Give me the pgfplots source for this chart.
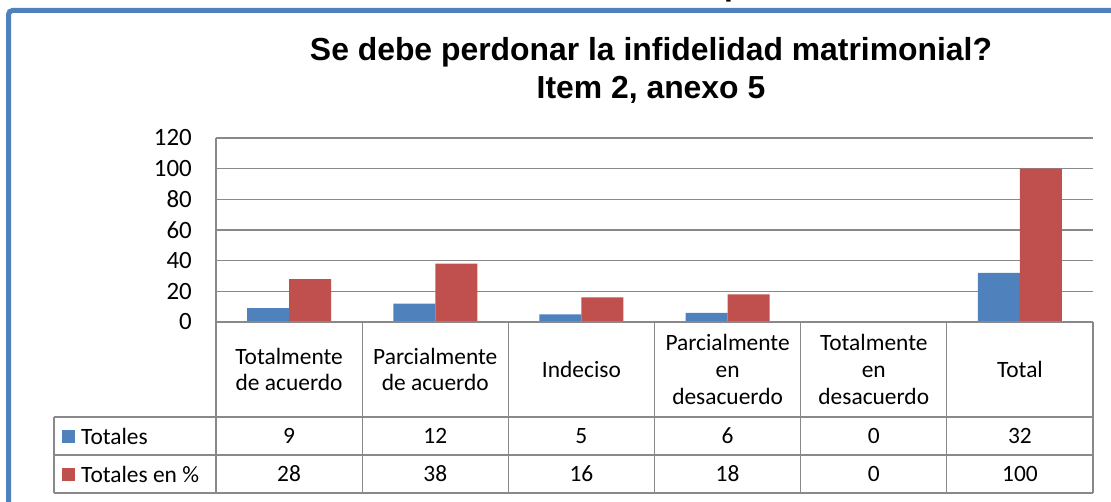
\documentclass[border=0pt]{standalone}
\usepackage{pgfplots}
\pgfplotsset{compat=1.18}
\usepackage{fontspec}
\setmainfont{Carlito}
\newfontfamily\titlefont{Liberation Sans}
\definecolor{sblue}{HTML}{4F81BD}
\definecolor{sred}{HTML}{C0504D}
\definecolor{gridc}{HTML}{898989}
\newcommand{\tf}{\fontsize{23.5}{27}\selectfont}
\begin{document}
\begin{tikzpicture}[x=1bp,y=1bp]
\path[use as bounding box] (0,0) rectangle (1111,502);
\begin{scope}
\clip (0,0) rectangle (1111,502);
\node[anchor=base west, inner sep=0pt, font=\titlefont\bfseries\fontsize{32}{32}\selectfont] at (724,506.5) {p};
\end{scope}
% outer frame
\draw[sblue, line width=5bp, rounded corners=4bp] (8.5,0) -- (8.5,491.5) -- (1115,491.5);
% title
\node[anchor=base, inner sep=0pt, font=\titlefont\bfseries\fontsize{32}{32}\selectfont] at (651,441) {Se debe perdonar la infidelidad matrimonial?};
\node[anchor=base, inner sep=0pt, font=\titlefont\bfseries\fontsize{32}{32}\selectfont] at (651,403) {Item 2, anexo 5};
\begin{axis}[
  at={(216bp,180bp)}, anchor=south west,
  scale only axis, width=877bp, height=184bp,
  xmin=-0.5, xmax=5.5, ymin=0, ymax=120,
  ytick={0,20,...,120}, xtick=\empty,
  ymajorgrids, grid style={gridc, line width=1.3bp},
  axis x line*=bottom, axis y line*=left,
  axis line style={gridc, line width=1.3bp, -},
  major tick length=0pt,
  /pgf/number format/assume math mode=true,
  yticklabel style={font=\fontsize{25}{25}\selectfont, inner sep=0pt, xshift=-24bp},
  ybar=0pt, bar width=42bp,
  clip=false,
]
\addplot[fill=sblue, draw=none] coordinates {(0,9) (1,12) (2,5) (3,6) (4,0) (5,32)};
\addplot[fill=sred, draw=none] coordinates {(0,28) (1,38) (2,16) (3,18) (4,0) (5,100)};
\end{axis}
% data table
\begin{scope}[gridc, line width=1.3bp]
\draw (216,180) -- (1093,180);
\draw (54,85) -- (1093,85);
\draw (54,47) -- (1093,47);
\draw (54,9) -- (1093,9);
\foreach \xx in {216,362.2,508.3,654.5,800.7,946.8,1093} \draw (\xx,180) -- (\xx,9);
\draw (54,85) -- (54,9);
\end{scope}
\def\cw{146.17}
\foreach \lab [count=\i from 0] in {{Totalmente\\de acuerdo},{Parcialmente\\de acuerdo},{Indeciso},{Parcialmente\\en\\desacuerdo},{Totalmente\\en\\desacuerdo},{Total}}
  \node[align=center, font=\tf, inner sep=0pt] at (216+\cw*\i+\cw/2,132.5) {\lab};
\foreach \v [count=\i from 0] in {9,12,5,6,0,32}
  \node[font=\tf, inner sep=0pt] at (216+\cw*\i+\cw/2,66) {\v};
\foreach \v [count=\i from 0] in {28,38,16,18,0,100}
  \node[font=\tf, inner sep=0pt] at (216+\cw*\i+\cw/2,28) {\v};
\fill[sblue] (62,59) rectangle (75,72);
\fill[sred] (62,21) rectangle (75,34);
\node[anchor=west, font=\tf, inner sep=0pt] at (81,66) {Totales};
\node[anchor=west, font=\tf, inner sep=0pt] at (81,28) {Totales en \%};
\end{tikzpicture}
\end{document}
